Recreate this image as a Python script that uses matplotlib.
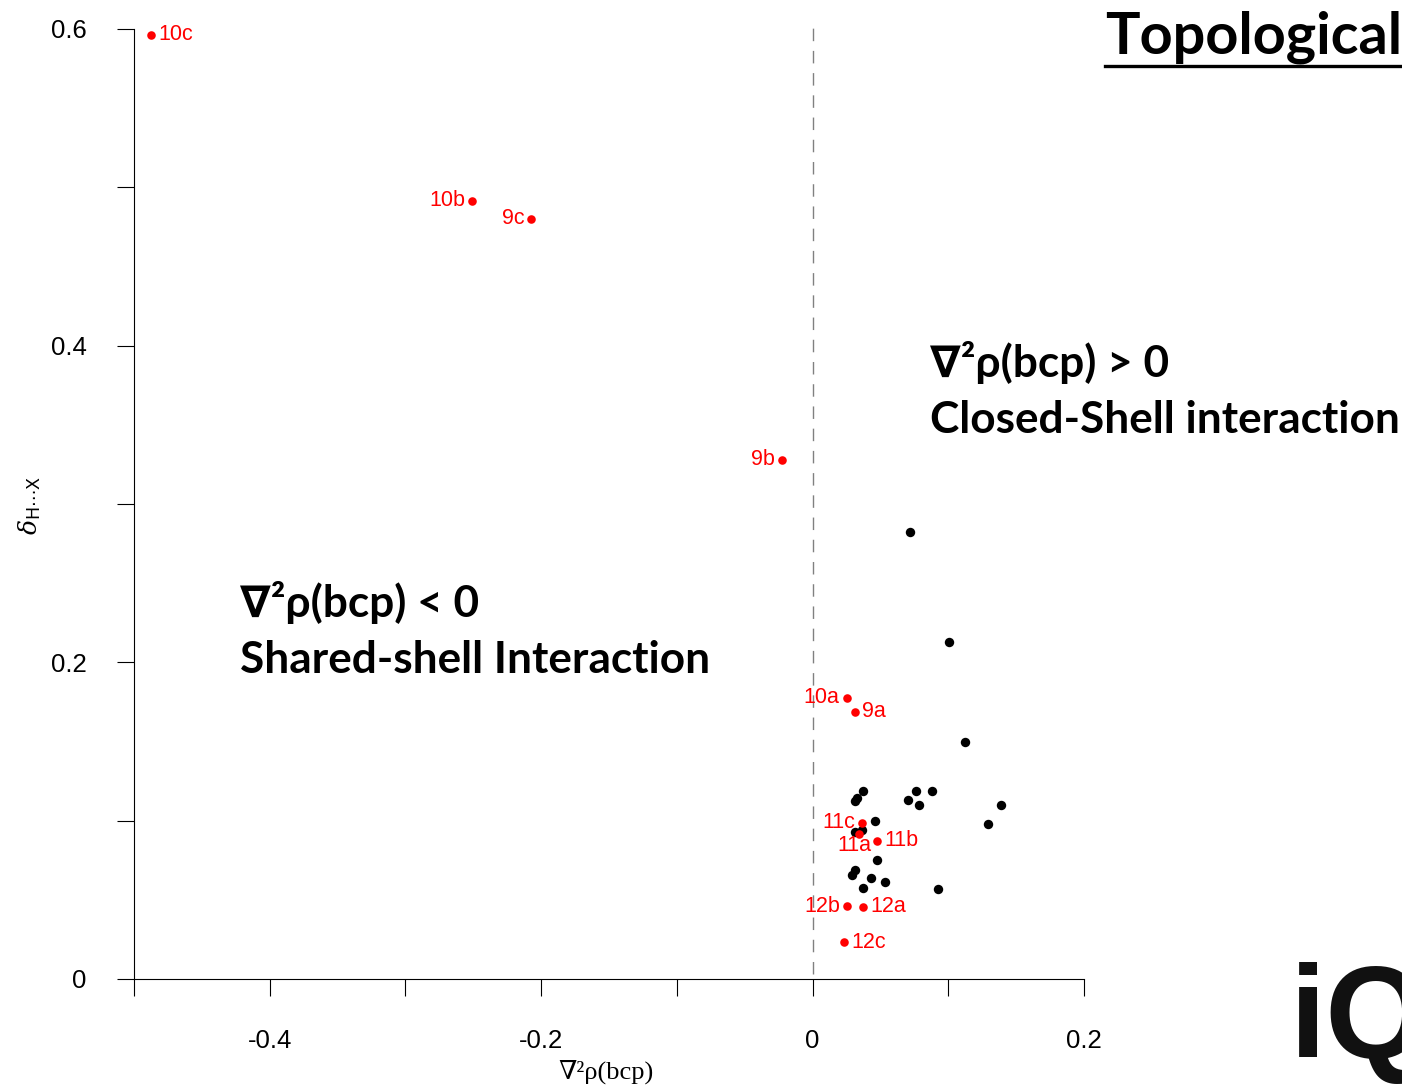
import matplotlib
matplotlib.use("Agg")
import matplotlib.pyplot as plt

# red labelled points (compounds)
red_labels = ["10c", "10b", "9c", "9b", "10a", "9a", "11c", "11a", "11b", "12b", "12a", "12c"]
red_x = [-0.4875, -0.2507, -0.2074, -0.0228, 0.0250, 0.0316, 0.0363, 0.0340, 0.0475, 0.0252, 0.0375, 0.0235]
red_y = [0.5963, 0.4915, 0.4801, 0.3279, 0.1775, 0.1687, 0.0987, 0.0916, 0.0874, 0.0461, 0.0455, 0.0232]
# which side the label sits on
red_side = ["r", "l", "l", "l", "l", "r", "l", "b", "r", "l", "r", "r"]

# black unlabelled points
black_x = [0.0720, 0.1007, 0.1125, 0.0373, 0.0330, 0.0313, 0.0765, 0.0880, 0.0706, 0.0784,
           0.1390, 0.1296, 0.0458, 0.0366, 0.0314, 0.0478, 0.0314, 0.0292, 0.0432, 0.0534,
           0.0373, 0.0926]
black_y = [0.2824, 0.2129, 0.1497, 0.1190, 0.1141, 0.1126, 0.1188, 0.1190, 0.1131, 0.1101,
           0.1099, 0.0977, 0.0998, 0.0941, 0.0927, 0.0754, 0.0689, 0.0657, 0.0636, 0.0613,
           0.0577, 0.0567]

xticks_major = [-0.4, -0.2, 0, 0.2]
xtick_labels = ["-0.4", "-0.2", "0", "0.2"]
xticks_minor = [-0.5, -0.3, -0.1, 0.1]
yticks = [0, 0.1, 0.2, 0.3, 0.4, 0.5, 0.6]
ytick_labels = ["0", "", "0.2", "", "0.4", "", "0.6"]

W, H = 1402, 1085
fig = plt.figure(figsize=(W / 100, H / 100), dpi=100)

def fx(px):
    return px / W

def fy(py):
    return 1 - py / H

ax = fig.add_axes([fx(134), fy(979), fx(1084) - fx(134), fy(29) - fy(979)])
ax.set_xlim(-0.5, 0.2)
ax.set_ylim(0, 0.6)

ax.axvline(0, ymin=0.005, ymax=1.008, color="#808080", lw=1, dashes=(9, 7), clip_on=False, zorder=1)

ax.scatter(black_x, black_y, s=46, color="black", zorder=3, linewidths=0)
ax.scatter(red_x, red_y, s=38, color="red", zorder=4, linewidths=0)

for lab, x, y, side in zip(red_labels, red_x, red_y, red_side):
    if side == "r":
        off, ha, va = (5, 0), "left", "center"
    elif side == "l":
        off, ha, va = (-5, 0), "right", "center"
    else:
        off, ha, va = (-3, -8), "center", "center"
    ax.annotate(lab, (x, y), xytext=off, textcoords="offset points",
                ha=ha, va=va, color="red", fontsize=15.5, family="Liberation Sans", zorder=5)

for s in ["top", "right"]:
    ax.spines[s].set_visible(False)
ax.spines["left"].set_linewidth(0.8)
ax.spines["bottom"].set_linewidth(0.8)

ax.set_xticks(xticks_major)
ax.set_xticklabels(xtick_labels)
ax.set_xticks(xticks_minor, minor=True)
ax.set_yticks(yticks)
ax.set_yticklabels(ytick_labels)
ax.tick_params(axis="x", which="both", direction="out", length=12, width=0.8, pad=24, labelsize=18.5)
ax.tick_params(axis="y", which="both", direction="out", length=12, width=0.8, pad=22, labelsize=18.5)
for t in ax.get_xticklabels() + ax.get_yticklabels():
    t.set_family("Liberation Sans")

fig.text(fx(606), fy(1072), "∇²ρ(bcp)", ha="center", va="center",
         fontsize=19, family=["Liberation Serif", "DejaVu Serif"])
fig.text(fx(30), fy(505), r"$\delta_{\mathsf{H\cdots X}}$", ha="center", va="center",
         rotation=90, fontsize=18, math_fontfamily="dejavuserif")

bold = dict(family=["Lato", "DejaVu Sans"], fontweight="bold", color="black", fontsize=31.8)
fig.text(fx(930), fy(363), "∇²ρ(bcp) > 0", ha="left", va="center", **bold)
fig.text(fx(930), fy(420), "Closed-Shell interaction", ha="left", va="center", **bold)
fig.text(fx(240), fy(603), "∇²ρ(bcp) < 0", ha="left", va="center", **bold)
fig.text(fx(240), fy(660), "Shared-shell Interaction", ha="left", va="center", **bold)

fig.text(fx(1105), fy(37), "Topological", ha="left", va="center",
         family="Lato", fontweight="bold", fontsize=41.5)
fig.add_artist(plt.Line2D([fx(1105), fx(1402)], [fy(66), fy(66)], color="black", lw=2.4))

fig.text(fx(1290), fy(1058), "iQ", ha="left", va="baseline",
         family="Liberation Sans", fontweight="bold", fontsize=94, color="#111111")

fig.savefig("out.png", dpi=100)
